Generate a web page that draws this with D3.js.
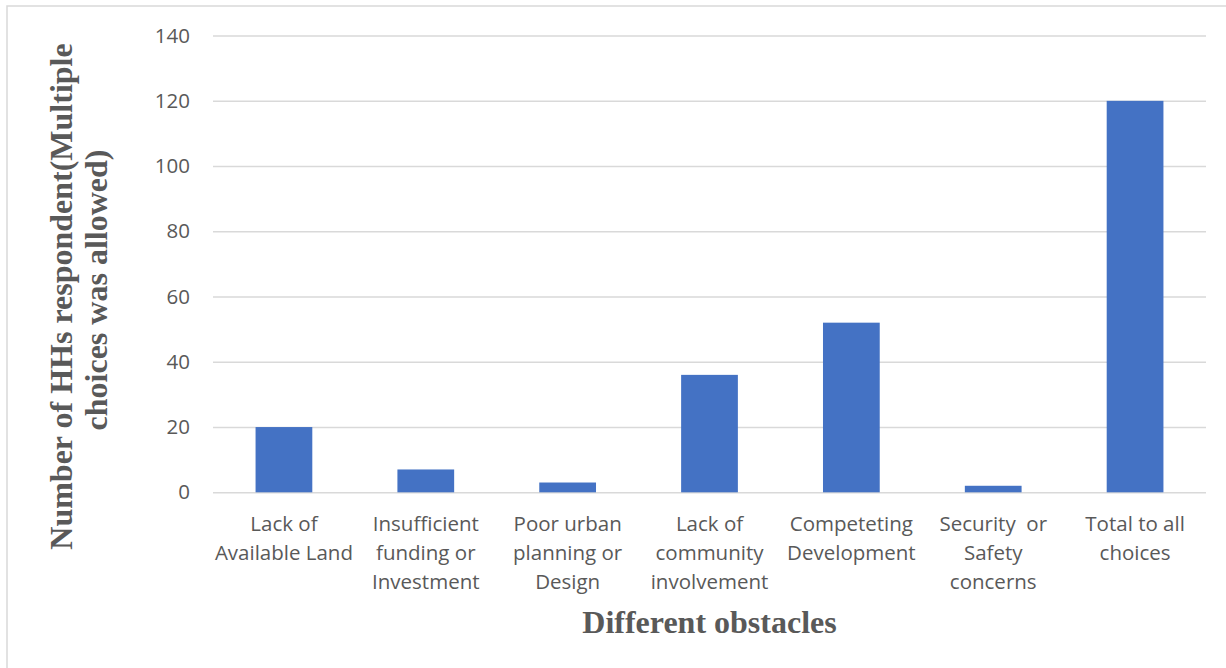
<!DOCTYPE html>
<html>
<head>
<meta charset="utf-8">
<script src="https://cdn.jsdelivr.net/npm/d3@7"></script>
<style>
  body { margin: 0; background: #fff; }
  svg { display: block; }
</style>
</head>
<body>
<div id="chart"></div>
<script>
// data
const categories = [
    "Lack of Available Land",
    "Insufficient funding or Investment",
    "Poor urban planning or Design",
    "Lack of community involvement",
    "Competeting Development",
    "Security  or Safety concerns",
    "Total to all choices"
];
const categoryLines = [
    ["Lack of", "Available Land"],
    ["Insufficient", "funding or", "Investment"],
    ["Poor urban", "planning or", "Design"],
    ["Lack of", "community", "involvement"],
    ["Competeting", "Development"],
    ["Security  or", "Safety", "concerns"],
    ["Total to all", "choices"]
];
const values = [20, 7, 3, 36, 52, 2, 120];
const yTicks = [0, 20, 40, 60, 80, 100, 120, 140];
const yTitleLines = ["Number of HHs respondent(Multiple", "choices was allowed)"];
const xTitle = "Different obstacles";

const W = 1226, H = 668;
const plot = {left: 213, right: 1206, top: 35.6, bottom: 492.3};
const textColor = "#595959";
const gridColor = "#d9d9d9";

const svg = d3.select("#chart")
    .append("svg")
    .attr("width", W)
    .attr("height", H);

// chart frame (right and bottom edges fall outside the picture)
svg.append("rect")
    .attr("x", 7).attr("y", 6)
    .attr("width", W + 10).attr("height", H + 10)
    .attr("fill", "none")
    .attr("stroke", gridColor)
    .attr("stroke-width", 1.5);

const x = d3.scaleBand()
    .domain(categories)
    .range([plot.left, plot.right])
    .paddingInner(0.6)
    .paddingOuter(0.3);

const y = d3.scaleLinear()
    .domain([0, 140])
    .range([plot.bottom, plot.top]);

// gridlines + y labels
const yAxis = svg.append("g")
    .attr("transform", "translate(" + plot.left + ",0)")
    .call(d3.axisLeft(y)
        .tickValues(yTicks)
        .tickSize(-(plot.right - plot.left))
        .tickPadding(23));
yAxis.select(".domain").remove();
yAxis.selectAll("line")
    .attr("stroke", gridColor)
    .attr("stroke-width", 1.5);
yAxis.selectAll("text")
    .attr("fill", textColor)
    .style("font-family", "'Open Sans', sans-serif")
    .style("font-size", "20.5px");

// bars
svg.selectAll("rect.bar")
    .data(values)
    .enter()
    .append("rect")
    .attr("class", "bar")
    .attr("x", (d, i) => x(categories[i]))
    .attr("y", d => y(d))
    .attr("width", x.bandwidth())
    .attr("height", d => y(0) - y(d))
    .attr("fill", "#4472c4");

// category labels
const xAxis = svg.append("g")
    .attr("transform", "translate(0," + plot.bottom + ")")
    .call(d3.axisBottom(x).tickSize(0).tickFormat(""));
xAxis.select(".domain").remove();
xAxis.selectAll(".tick").each(function (d, i) {
    const t = d3.select(this).append("text")
        .attr("fill", textColor)
        .attr("text-anchor", "middle")
        .style("font-family", "'Open Sans', sans-serif")
        .style("font-size", "20.5px")
        .style("white-space", "pre");
    categoryLines[i].forEach((line, k) => {
        t.append("tspan")
            .attr("x", 0)
            .attr("y", 38.7 + k * 29)
            .text(line);
    });
});

// axis titles
svg.append("text")
    .attr("x", 709.5)
    .attr("y", 633)
    .attr("text-anchor", "middle")
    .attr("fill", textColor)
    .style("font-family", "'Liberation Serif', 'Times New Roman', serif")
    .style("font-weight", "bold")
    .style("font-size", "32px")
    .text(xTitle);

const yTitleCenters = [296.5, 290];
yTitleLines.forEach((line, k) => {
    svg.append("text")
        .attr("transform", "translate(" + (72 + k * 35) + "," + yTitleCenters[k] + ") rotate(-90)")
        .attr("text-anchor", "middle")
        .attr("fill", textColor)
        .style("font-family", "'Liberation Serif', 'Times New Roman', serif")
        .style("font-weight", "bold")
        .style("font-size", "32px")
        .text(line);
});
</script>
</body>
</html>
